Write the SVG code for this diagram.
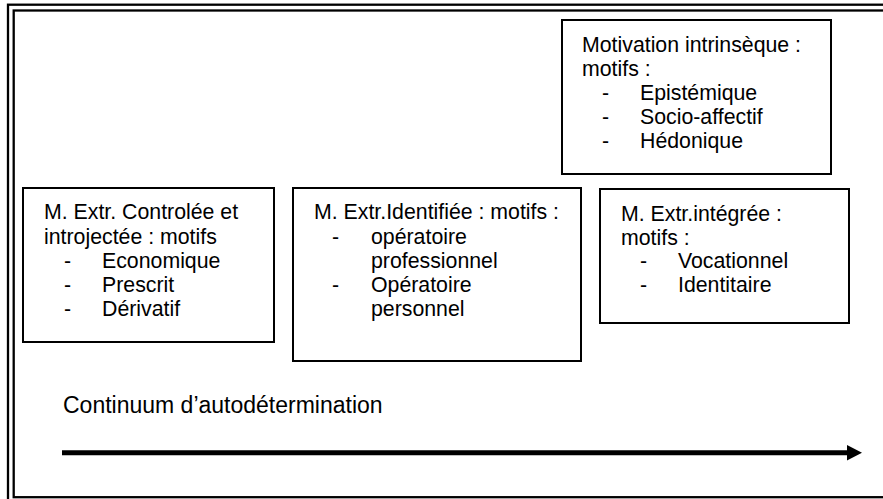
<svg xmlns="http://www.w3.org/2000/svg" width="883" height="499" viewBox="0 0 883 499">
<style>
text{font-family:"Liberation Sans",Arial,sans-serif;font-size:21.3px;fill:#000}
.box{fill:#fff;stroke:#000;stroke-width:2}
.frame{fill:none;stroke:#000;stroke-width:2.3}
.big{font-size:23px}
</style>
<rect width="883" height="499" fill="#fff"/>
<g id="frame">
<rect class="frame" x="8" y="4.7" width="900" height="505"/>
<rect class="frame" x="13.7" y="10.5" width="890" height="486.7"/>
</g>
<g id="intrinseque">
<rect class="box" x="562" y="20" width="269" height="154"/>
<text x="582" y="52">Motivation intrinsèque :</text>
<text x="582" y="75.5">motifs :</text>
<text x="602" y="100">-</text><text x="640" y="100">Epistémique</text>
<text x="602" y="124">-</text><text x="640" y="124">Socio-affectif</text>
<text x="602" y="148">-</text><text x="640" y="148">Hédonique</text>
</g>
<g id="controlee">
<rect class="box" x="23" y="188" width="251" height="154"/>
<text x="44" y="219">M. Extr. Controlée et</text>
<text x="44" y="243.5">introjectée : motifs</text>
<text x="64" y="268">-</text><text x="102" y="268">Economique</text>
<text x="64" y="292">-</text><text x="102" y="292">Prescrit</text>
<text x="64" y="316">-</text><text x="102" y="316">Dérivatif</text>
</g>
<g id="identifiee">
<rect class="box" x="293" y="188" width="288" height="173"/>
<text x="314" y="219">M. Extr.Identifiée : motifs :</text>
<text x="332" y="243.5">-</text><text x="371" y="243.5">opératoire</text>
<text x="371" y="268">professionnel</text>
<text x="332" y="292">-</text><text x="371" y="292">Opératoire</text>
<text x="371" y="316">personnel</text>
</g>
<g id="integree">
<rect class="box" x="600" y="189" width="249" height="134"/>
<text x="621" y="221">M. Extr.intégrée :</text>
<text x="621" y="245">motifs :</text>
<text x="640" y="268">-</text><text x="678" y="268">Vocationnel</text>
<text x="640" y="292">-</text><text x="678" y="292">Identitaire</text>
</g>
<g id="continuum">
<text class="big" x="63" y="413">Continuum d’autodétermination</text>
</g>
<g id="connectors">
<line x1="62" y1="452.7" x2="848" y2="452.7" stroke="#000" stroke-width="5"/>
<polygon points="847,445 862,452.7 847,460.4" fill="#000"/>
</g>
</svg>
